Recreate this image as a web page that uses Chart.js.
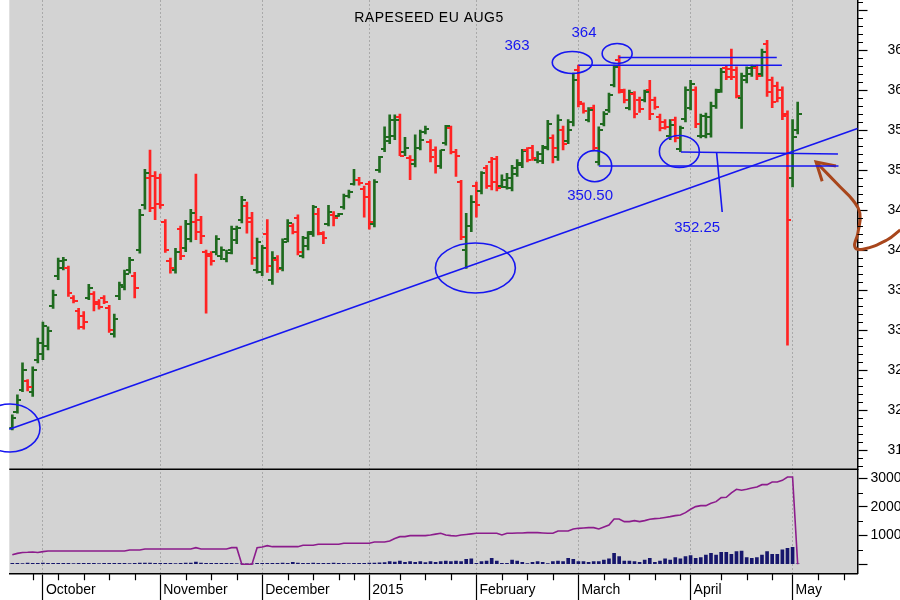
<!DOCTYPE html>
<html>
<head>
<meta charset="utf-8">
<title>Rapeseed EU Aug5</title>
<script src="https://cdn.jsdelivr.net/npm/chart.js@4.4.1/dist/chart.umd.min.js"></script>
<style>
  html, body { margin: 0; padding: 0; background: #fff; overflow: hidden; }
  #wrap { width: 930px; height: 600px; }
</style>
</head>
<body>
<div id="wrap"><canvas id="chart" width="930" height="600"></canvas></div>
<script>
// daily bars, one per trading day (23 Sep 2014 .. 5 May 2015)
const highs = [
  319.4, 321.9, 325.9, 323.8, 325.4, 329.0, 331.0, 330.4, 335.0, 339.0,
  339.1, 338.0, 334.3, 332.7, 332.3, 335.7, 334.8, 333.8, 334.3, 333.1,
  332.0, 336.0, 337.5, 339.1, 337.2, 345.1, 350.1, 352.5, 349.8, 349.5,
  343.8, 339.0, 340.2, 343.0, 343.7, 345.1, 349.5, 344.2, 340.0, 339.8,
  341.8, 340.4, 340.0, 343.0, 343.0, 346.7, 346.0, 344.7, 341.5, 340.6,
  343.8, 339.8, 339.3, 341.4, 343.8, 343.3, 344.4, 341.7, 342.3, 345.6,
  345.2, 342.3, 345.6, 344.8, 344.6, 347.0, 347.5, 350.1, 349.1, 348.0,
  348.6, 348.8, 351.7, 355.4, 356.9, 356.9, 357.0, 354.1, 351.8, 354.4,
  355.0, 355.5, 353.8, 352.9, 352.5, 355.6, 355.5, 352.6, 348.7, 344.6,
  346.8, 348.5, 349.8, 350.6, 351.6, 351.7, 349.4, 349.6, 350.6, 351.3,
  352.6, 352.8, 353.1, 352.3, 353.1, 356.2, 354.4, 356.9, 355.5, 356.3,
  362.1, 363.1, 358.4, 357.8, 358.1, 355.4, 357.3, 359.6, 363.1, 364.3,
  360.1, 360.0, 359.8, 359.1, 360.0, 361.2, 359.1, 357.0, 356.3, 356.3,
  356.6, 355.5, 360.4, 361.2, 360.4, 357.0, 357.1, 358.5, 360.1, 362.7,
  363.0, 365.1, 362.9, 362.1, 362.9, 363.1, 363.1, 365.1, 366.2, 361.6,
  361.0, 360.4, 357.4, 356.3, 358.5
];
const lows = [
  317.5, 319.6, 322.3, 322.4, 321.7, 325.9, 326.3, 327.5, 332.7, 336.3,
  337.5, 334.2, 333.4, 330.1, 330.1, 333.8, 332.4, 332.6, 333.3, 329.7,
  329.1, 333.8, 335.0, 337.1, 334.0, 339.6, 345.1, 344.8, 343.8, 345.2,
  339.7, 337.1, 337.1, 338.8, 339.8, 341.0, 341.3, 340.8, 332.1, 338.1,
  339.4, 338.8, 338.5, 339.5, 340.8, 343.4, 342.1, 338.2, 337.1, 336.8,
  337.2, 335.7, 337.2, 337.4, 341.0, 342.0, 339.4, 339.0, 340.0, 341.7,
  341.9, 340.8, 343.0, 343.0, 344.2, 345.1, 346.5, 348.1, 348.1, 344.1,
  342.6, 342.9, 349.7, 352.3, 353.3, 353.8, 351.8, 351.8, 348.8, 350.4,
  352.5, 354.5, 351.0, 349.6, 350.2, 353.1, 352.0, 349.2, 341.3, 337.7,
  342.3, 344.1, 347.0, 347.7, 347.5, 347.4, 347.8, 347.6, 347.4, 349.2,
  350.3, 351.0, 351.2, 350.9, 350.8, 352.5, 350.9, 351.2, 352.5, 353.3,
  355.5, 357.9, 357.1, 356.0, 352.5, 350.6, 355.5, 357.2, 360.4, 359.6,
  358.4, 357.5, 356.5, 357.2, 358.5, 356.3, 357.6, 354.9, 355.1, 353.8,
  353.5, 352.3, 356.0, 357.5, 355.3, 354.0, 354.0, 354.1, 357.7, 359.7,
  361.3, 361.3, 359.0, 355.2, 360.9, 361.7, 361.3, 361.7, 359.2, 357.8,
  358.5, 356.3, 328.1, 347.9, 354.5
];
const opens = [
  317.8, 319.8, 322.5, 323.6, 322.2, 326.2, 327.0, 328.0, 333.0, 336.8,
  337.8, 337.8, 334.0, 332.4, 331.8, 334.0, 334.5, 333.5, 334.0, 332.8,
  329.5, 334.2, 335.4, 337.5, 336.8, 340.0, 345.6, 349.0, 349.2, 349.0,
  343.5, 338.6, 337.5, 342.6, 340.2, 341.4, 343.5, 343.8, 339.8, 339.5,
  339.8, 339.2, 338.9, 340.0, 341.2, 343.8, 345.5, 344.0, 337.5, 337.2,
  342.0, 336.2, 338.8, 337.8, 341.4, 343.0, 344.0, 339.3, 340.5, 342.0,
  344.5, 342.0, 343.3, 344.4, 344.3, 345.4, 346.7, 348.3, 348.8, 347.6,
  348.2, 343.2, 350.0, 352.6, 353.6, 354.2, 356.6, 352.2, 351.5, 350.8,
  352.8, 354.7, 353.5, 352.5, 350.5, 353.4, 355.2, 352.3, 348.5, 340.0,
  343.0, 348.0, 347.4, 350.3, 351.0, 351.4, 348.0, 347.9, 347.8, 349.5,
  350.6, 352.5, 352.8, 351.2, 351.1, 352.8, 354.0, 351.6, 355.0, 353.6,
  356.0, 362.5, 358.2, 356.3, 357.8, 351.0, 355.8, 357.5, 360.6, 363.8,
  359.8, 357.8, 359.5, 358.8, 358.8, 360.0, 358.8, 356.6, 356.0, 354.2,
  356.2, 352.6, 356.4, 357.8, 360.0, 354.3, 354.3, 354.5, 358.0, 360.0,
  362.8, 362.6, 362.5, 359.0, 361.2, 362.0, 362.8, 362.0, 365.8, 361.3,
  360.5, 360.0, 357.0, 349.0, 355.0
];
const closes = [
  319.0, 321.2, 325.0, 322.9, 325.0, 328.4, 330.5, 329.9, 334.4, 338.6,
  338.8, 334.6, 333.6, 330.4, 331.0, 335.3, 333.2, 332.9, 333.5, 330.0,
  331.4, 335.6, 337.0, 338.7, 335.2, 344.4, 349.6, 345.3, 345.8, 345.6,
  340.0, 337.8, 339.8, 339.2, 343.2, 344.6, 342.3, 341.8, 339.3, 338.6,
  341.4, 340.0, 339.6, 342.6, 342.8, 346.2, 343.5, 339.0, 341.0, 340.2,
  338.0, 339.0, 337.6, 341.0, 343.4, 342.3, 339.8, 341.5, 342.2, 345.4,
  342.1, 341.5, 344.8, 344.0, 344.5, 346.7, 347.3, 348.8, 348.4, 346.6,
  343.5, 348.5, 351.6, 354.1, 356.3, 356.2, 351.8, 352.8, 351.3, 352.8,
  353.8, 355.1, 351.6, 350.5, 352.5, 355.5, 352.3, 351.7, 341.6, 343.0,
  346.0, 345.6, 349.6, 348.0, 348.5, 347.8, 348.7, 349.0, 350.2, 350.9,
  352.4, 351.3, 351.5, 352.0, 352.9, 355.8, 352.8, 356.2, 353.2, 355.0,
  361.2, 358.5, 357.4, 357.5, 352.8, 355.0, 357.0, 359.4, 362.9, 360.0,
  358.8, 359.6, 357.0, 357.6, 359.8, 357.0, 357.9, 355.2, 355.4, 355.6,
  354.0, 355.2, 360.0, 360.8, 355.8, 356.8, 356.6, 358.0, 359.8, 362.2,
  361.6, 361.6, 359.3, 361.8, 362.7, 362.9, 361.8, 364.8, 359.7, 358.5,
  359.0, 356.7, 343.7, 354.1, 357.0
];
const volume = [
  30, 35, 28, 40, 32, 30, 38, 30, 35, 30,
  32, 30, 28, 35, 30, 30, 33, 28, 30, 32,
  30, 35, 30, 28, 32, 40, 45, 38, 35, 30,
  32, 30, 28, 35, 40, 45, 75, 40, 35, 30,
  32, 30, 35, 30, 28, 10, 10, 10, 30, 35,
  32, 30, 35, 40, 32, 70, 45, 35, 30, 38,
  35, 30, 32, 40, 35, 30, 28, 35, 30, 32,
  40, 45, 50, 60, 95, 80, 116, 70, 93, 70,
  93, 60, 93, 70, 93, 116, 93, 116, 93, 174,
  186, 35, 93, 116, 209, 116, 35, 35, 151, 116,
  70, 23, 70, 93, 70, 23, 93, 116, 93, 209,
  174, 93, 93, 70, 93, 93, 151, 186, 383, 267,
  116, 116, 93, 70, 151, 209, 70, 116, 186, 151,
  232, 186, 267, 302, 209, 232, 325, 383, 325, 418,
  418, 348, 441, 464, 232, 209, 232, 325, 441, 348,
  348, 500, 560, 590, 20
];
const openInterest = [
  330, 380, 410, 417, 430, 410, 440, 463, 463, 463,
  463, 463, 463, 463, 463, 463, 463, 463, 463, 463,
  463, 463, 463, 498, 498, 498, 533, 533, 533, 533,
  533, 533, 533, 533, 533, 533, 579, 533, 533, 533,
  533, 533, 533, 579, 579, 0, 0, 0, 579, 600,
  649, 614, 614, 614, 614, 614, 614, 661, 661, 661,
  696, 696, 696, 696, 696, 731, 731, 731, 731, 731,
  731, 777, 777, 777, 812, 900, 963, 963, 998, 998,
  998, 998, 1021, 1050, 1079, 1021, 1000, 986, 1021, 1040,
  1060, 1079, 1079, 1079, 1079, 1079, 1021, 1079, 1079, 1090,
  1090, 1102, 1102, 1102, 1090, 1079, 1079, 1160, 1160, 1160,
  1230, 1253, 1264, 1276, 1276, 1230, 1300, 1370, 1579, 1579,
  1486, 1486, 1521, 1486, 1521, 1567, 1590, 1602, 1630, 1660,
  1695, 1720, 1800, 1916, 2009, 2044, 2044, 2125, 2183, 2322,
  2334, 2485, 2613, 2578, 2613, 2659, 2694, 2775, 2775, 2868,
  2868, 2926, 3042, 3042, 0
];

// axis ticks (x in trading-day index)
const monthIdx = [6, 29, 49, 70, 91, 111, 133, 153];
const monthLabels = ["October", "November", "December", "2015", "February", "March", "April", "May"];
const weekIdx = [4, 9, 14, 19, 24, 34, 39, 44, 54, 59, 64, 67, 76, 81, 86, 96, 101, 106,
                 116, 121, 126, 131, 139, 144, 149, 158, 163];
const priceTicks = [315, 320, 325, 330, 335, 340, 345, 350, 355, 360, 365, 370];
const volTicks = [0, 1000, 2000, 3000];
const volMinorTicks = [500, 1500, 2500];

// hand drawn notes, in (day index, price)
const trendLine = [[-0.59, 317.6], [165.73, 355.2]];
const levelLines = [
  [[111.0, 363.1], [150.9, 363.1]],
  [[119.0, 364.06], [149.9, 364.06]],
  [[115.0, 350.5], [162.0, 350.5]],
  [[131.1, 352.25], [161.9, 352.0]],
  [[138.1, 352.2], [139.2, 344.75]]
];
const rings = [
  [-0.45, 317.75, 5.88, 3.0],
  [90.8, 337.75, 7.84, 3.125],
  [109.8, 363.44, 3.92, 1.375],
  [118.6, 364.56, 2.94, 1.25],
  [114.2, 350.48, 3.33, 1.94],
  [130.8, 352.31, 3.92, 2.0]
];
const notes = [
  ["363", 98.96, 365.5],
  ["364", 112.1, 367.1],
  ["350.50", 113.3, 346.75],
  ["352.25", 134.3, 342.75]
];
const arrowCurve = [[157.6, 351.0], [162.3, 347.9], [164.8, 346.25], [166.2, 344.6], [165.8, 342.1],
                    [165.2, 340.4], [166.8, 340.1], [171.5, 341.25], [174.1, 342.5]];
const arrowHead = [[161.5, 350.5], [157.6, 351.0], [158.8, 348.6]];

const UP = '#1f6a1f', DOWN = '#ff2323', BLUE = '#1616f0', BROWN = '#a8461c';
const FONT = "'Liberation Sans', Arial, sans-serif";

function tickMark(color, side) {
  const c = document.createElement('canvas');
  c.width = 8; c.height = 2;
  const g = c.getContext('2d');
  g.fillStyle = color;
  g.fillRect(side === 'left' ? 0 : 4, 0, 4, 2);
  return c;
}
const openUp = tickMark(UP, 'left'), openDown = tickMark(DOWN, 'left');
const closeUp = tickMark(UP, 'right'), closeDown = tickMark(DOWN, 'right');
const isUp = i => closes[i] >= opens[i];

const pts = arr => arr.map(p => ({x: p[0], y: p[1]}));
const guide = (arr, color, width, extra) => Object.assign({
  type: 'line', data: pts(arr), borderColor: color, borderWidth: width,
  pointRadius: 0, tension: 0, yAxisID: 'y', order: 0, clip: false
}, extra || {});

// no label padding around the axes, the plot runs edge to edge
const noPad = s => { s.paddingTop = 0; s.paddingBottom = 0; s.paddingLeft = 0; s.paddingRight = 0; };

const notesPlugin = {
  id: 'notes',
  beforeDraw(chart) {
    const {ctx, chartArea: a} = chart;
    ctx.save();
    ctx.fillStyle = '#d3d3d3';
    ctx.fillRect(a.left, a.top, a.right - a.left, a.bottom - a.top);
    ctx.restore();
  },
  afterDatasetsDraw(chart) {
    const {ctx} = chart;
    const x = chart.scales.x, y = chart.scales.y;
    ctx.save();
    ctx.strokeStyle = BLUE;
    ctx.lineWidth = 1.6;
    rings.forEach(r => {
      const cx = x.getPixelForValue(r[0]), cy = y.getPixelForValue(r[1]);
      const rx = x.getPixelForValue(r[0] + r[2]) - cx;
      const ry = cy - y.getPixelForValue(r[1] + r[3]);
      ctx.beginPath();
      ctx.ellipse(cx, cy, rx, ry, 0, 0, Math.PI * 2);
      ctx.stroke();
    });
    ctx.fillStyle = BLUE;
    ctx.font = '15px ' + FONT;
    ctx.textAlign = 'center';
    ctx.textBaseline = 'middle';
    notes.forEach(n => ctx.fillText(n[0], x.getPixelForValue(n[1]), y.getPixelForValue(n[2])));
    ctx.restore();
  },
  afterDraw(chart) {
    const {ctx, chartArea: a} = chart;
    const x = chart.scales.x, y = chart.scales.y, y2 = chart.scales.y2;
    ctx.save();
    ctx.strokeStyle = '#000';
    ctx.lineWidth = 1.5;
    ctx.beginPath();
    ctx.moveTo(a.left, y.bottom);
    ctx.lineTo(a.right, y.bottom);
    ctx.stroke();
    ctx.lineWidth = 1.2;
    ctx.beginPath();
    for (let v = 313; v <= 371; v++) {
      if (v % 5 === 0) continue;
      const py = Math.round(y.getPixelForValue(v)) + 0.5;
      ctx.moveTo(y.left, py); ctx.lineTo(y.left + 5.5, py);
    }
    volMinorTicks.forEach(v => {
      const py = Math.round(y2.getPixelForValue(v)) + 0.5;
      ctx.moveTo(y2.left, py); ctx.lineTo(y2.left + 5.5, py);
    });
    weekIdx.forEach(d => {
      const px = Math.round(x.getPixelForValue(d)) + 0.5;
      ctx.moveTo(px, x.top); ctx.lineTo(px, x.top + 7);
    });
    ctx.stroke();
    ctx.fillStyle = '#000';
    ctx.font = '14px ' + FONT;
    ctx.letterSpacing = '0.5px';
    ctx.textAlign = 'center';
    ctx.textBaseline = 'middle';
    ctx.fillText('RAPESEED EU AUG5', 429, 18);
    ctx.restore();
  }
};

const days = highs.map((_, i) => i);

new Chart(document.getElementById('chart'), {
  type: 'bar',
  data: {
    datasets: [
      guide(trendLine, BLUE, 1.6),
      ...levelLines.map(l => guide(l, BLUE, 1.6)),
      guide(arrowCurve, BROWN, 3, {tension: 0.45, capBezierPoints: false}),
      guide(arrowHead, BROWN, 3),
      {
        type: 'line', label: 'Open', showLine: false, yAxisID: 'y', order: 1,
        data: days.map(i => ({x: i, y: opens[i]})),
        pointRadius: 2,
        pointStyle: c => isUp(c.dataIndex) ? openUp : openDown
      },
      {
        type: 'line', label: 'Close', showLine: false, yAxisID: 'y', order: 1,
        data: days.map(i => ({x: i, y: closes[i]})),
        pointRadius: 2,
        pointStyle: c => isUp(c.dataIndex) ? closeUp : closeDown
      },
      {
        type: 'bar', label: 'High-Low', yAxisID: 'y', order: 2, grouped: false,
        data: days.map(i => ({x: i, y: [lows[i], highs[i]]})),
        barThickness: 2,
        backgroundColor: days.map(i => isUp(i) ? UP : DOWN)
      },
      {
        type: 'line', label: 'Open interest', yAxisID: 'y2', order: 2,
        data: days.map(i => ({x: i, y: openInterest[i]})),
        borderColor: '#8c1c8c', borderWidth: 1.6, pointRadius: 0, tension: 0
      },
      {
        type: 'bar', label: 'Volume', yAxisID: 'y2', order: 3, grouped: false,
        data: days.map(i => ({x: i, y: volume[i]})),
        barThickness: 3,
        backgroundColor: '#16166c'
      }
    ]
  },
  options: {
    responsive: false,
    animation: false,
    events: [],
    devicePixelRatio: 1,
    layout: {autoPadding: false, padding: {left: 9.3, top: 0, right: 0, bottom: 0}},
    plugins: {legend: {display: false}, tooltip: {enabled: false}},
    scales: {
      x: {
        type: 'linear', min: -0.59, max: 165.73, offset: false,
        afterBuildTicks: s => { s.ticks = monthIdx.map(v => ({value: v})); },
        afterFit: s => { s.height = 26.7; noPad(s); },
        ticks: {
          autoSkip: false, maxRotation: 0, align: 'start', labelOffset: 3, padding: -19,
          color: '#000', font: {family: FONT, size: 14},
          callback: v => monthLabels[monthIdx.indexOf(v)]
        },
        grid: {offset: false, color: '#a9a9a9', tickColor: '#000', tickLength: 27, tickWidth: 1.2, tickBorderDash: []},
        border: {color: '#000', width: 1.5, dash: [2, 2]}
      },
      y: {
        type: 'linear', position: 'right', stack: 'panels', stackWeight: 469.3,
        min: 312.59, max: 371.25,
        afterBuildTicks: s => { s.ticks = priceTicks.map(v => ({value: v})); },
        afterFit: s => { s.width = 72.5; noPad(s); },
        ticks: {
          autoSkip: false, padding: 20, color: '#000', font: {family: FONT, size: 14},
          callback: v => v <= 365 ? String(v) : ''
        },
        grid: {drawOnChartArea: false, tickLength: 10, tickColor: '#000', tickWidth: 1.2},
        border: {color: '#000', width: 1.5}
      },
      y2: {
        type: 'linear', position: 'right', stack: 'panels', stackWeight: 104,
        min: -314, max: 3310,
        afterBuildTicks: s => { s.ticks = volTicks.map(v => ({value: v})); },
        afterFit: s => { s.width = 72.5; noPad(s); },
        ticks: {
          autoSkip: false, padding: 3, color: '#000', font: {family: FONT, size: 14},
          callback: v => v > 0 ? String(v) : ''
        },
        grid: {drawOnChartArea: false, tickLength: 10, tickColor: '#000', tickWidth: 1.2},
        border: {color: '#000', width: 1.5}
      }
    }
  },
  plugins: [notesPlugin]
});
</script>
</body>
</html>
